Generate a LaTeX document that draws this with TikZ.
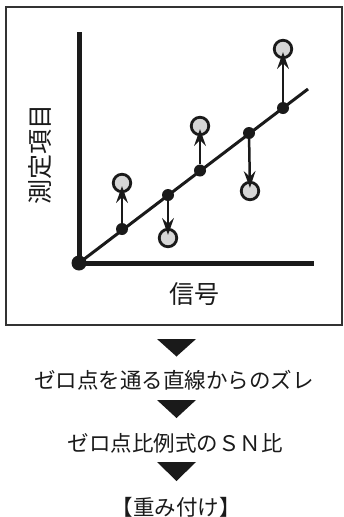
\documentclass[tikz,border=0pt]{standalone}
\usepackage{fontspec}
\newfontfamily\jp{Noto Sans CJK JP}
\usetikzlibrary{arrows.meta}
\definecolor{frame}{HTML}{333333}
\definecolor{ink}{HTML}{1A1A1A}
\definecolor{ptfill}{HTML}{D6D6D6}
\tikzset{
  axis/.style={draw=ink, line width=5pt},
  fitline/.style={draw=ink, line width=3pt},
  ondot/.style={circle, fill=ink, inner sep=0pt, minimum size=12pt},
  odot/.style={circle, fill=ink, inner sep=0pt, minimum size=15pt},
  meas/.style={circle, draw=ink, fill=ptfill, line width=2.8pt, inner sep=0pt, minimum size=17.5pt},
  dev/.style={draw=ink, line width=2.5pt, shorten >=-7pt,
    -{Stealth[length=17pt,width=12pt,inset=6pt,line width=0pt]}},
  lbl/.style={font=\jp\fontsize{25}{25}\selectfont, text=ink, inner sep=0pt},
  step label/.style={font=\jp\fontsize{21.5}{21.5}\selectfont, text=ink, inner sep=0pt},
  tri/.style={fill=ink, draw=none},
}
\begin{document}
\begin{tikzpicture}[x=1pt,y=-1pt]
\useasboundingbox (0,0) rectangle (343,517);
\fill[white] (0,0) rectangle (343,517);
\draw[frame, line width=2.2pt] (6,7) rectangle (342,325);
% axes
\coordinate (ytop) at (79,32);
\coordinate (xend) at (314,263);
\node[odot] (o) at (79,263) {};
\draw[axis] (ytop) -- (79,263) -- (xend);
\coordinate (lend) at (308,89);
\draw[fitline] (o.center) -- (lend);
% points on line
\node[ondot] (d1) at (122,229) {};
\node[ondot] (d2) at (168,195) {};
\node[ondot] (d3) at (200,170.5) {};
\node[ondot] (d4) at (249,133) {};
\node[ondot] (d5) at (283,108) {};
% measured points
\node[meas] (m1) at (122,183) {};
\node[meas] (m2) at (168,238) {};
\node[meas] (m3) at (200,126) {};
\node[meas] (m4) at (250,191) {};
\node[meas] (m5) at (283,49) {};
\draw[dev] (d1) -- (m1);
\draw[dev] (d2) -- (m2);
\draw[dev] (d3) -- (m3);
\draw[dev] (d4) -- (m4);
\draw[dev] (d5) -- (m5);
% labels
\node[lbl, rotate=90] (ylab) at (40,154) {測定項目};
\node[lbl] (xlab) at (194,294) {信号};
% flow
\node[step label] (s1) at (174,380) {ゼロ点を通る直線からのズレ};
\node[step label] (s2) at (175,443) {ゼロ点比例式のＳＮ比};
\node[step label] (s3) at (176,507) {【重み付け】};
\fill[tri] (157,339) -- (196,339) -- (176.5,356.5) -- cycle;
\fill[tri] (157,400) -- (196,400) -- (176.5,418) -- cycle;
\fill[tri] (157,462) -- (196,462) -- (176.5,481) -- cycle;
\end{tikzpicture}
\end{document}
